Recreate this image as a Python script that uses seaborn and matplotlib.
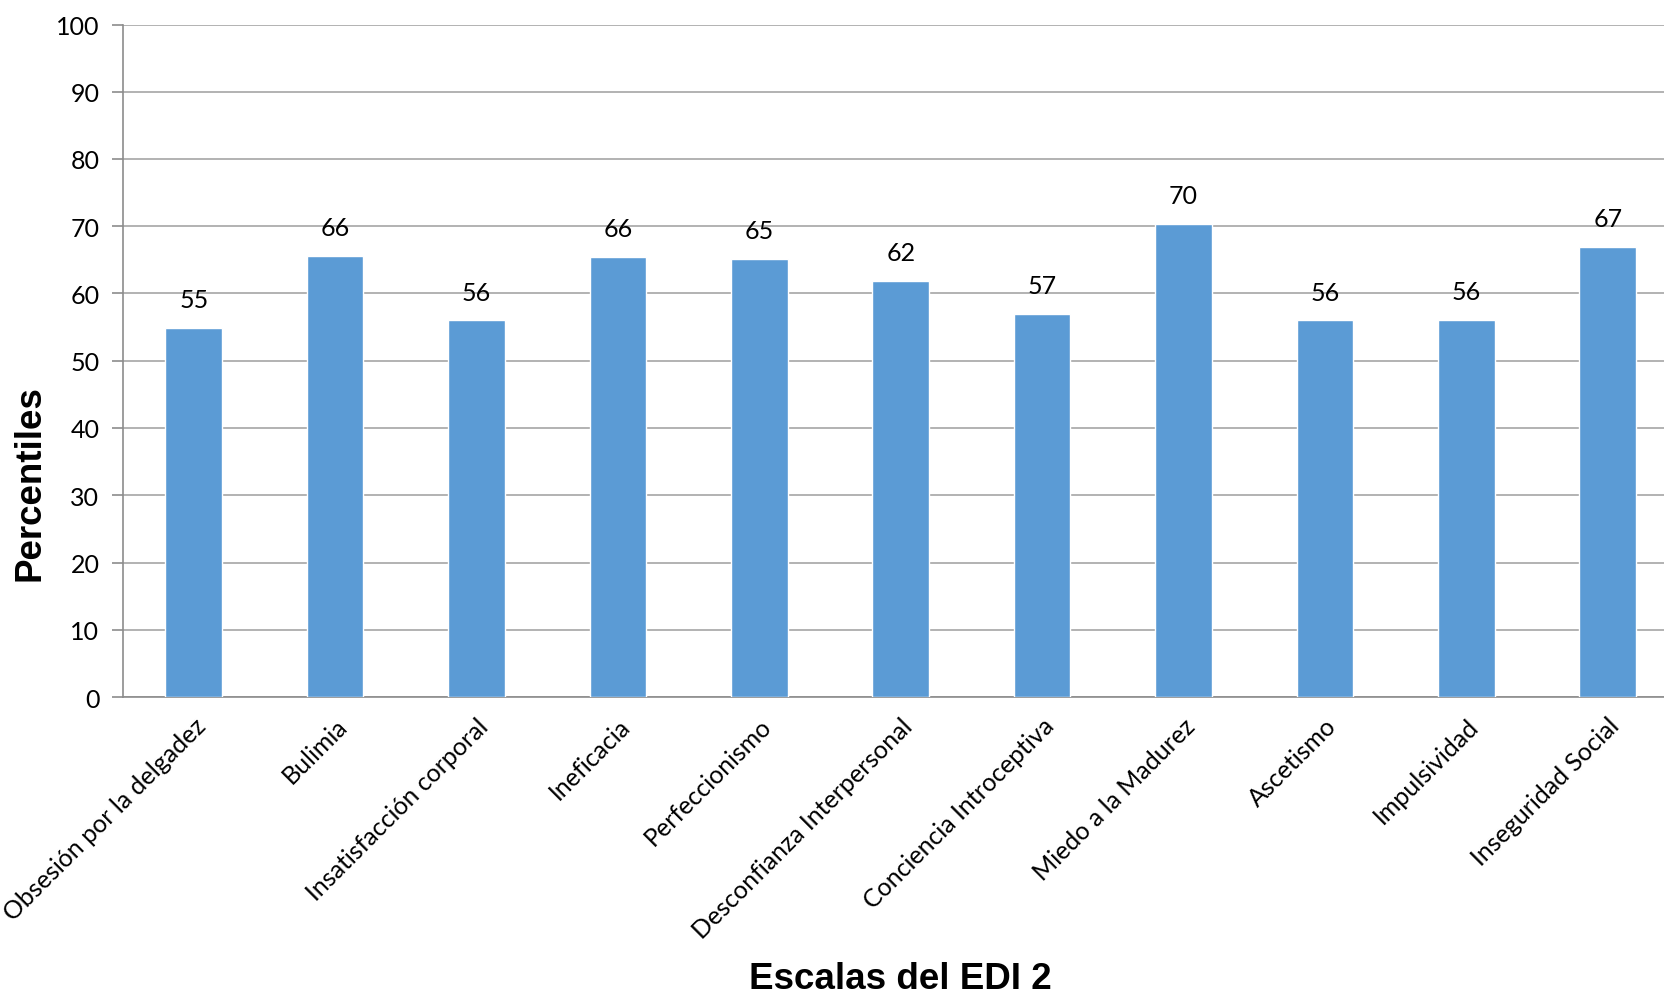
import matplotlib
matplotlib.use("Agg")
import matplotlib.pyplot as plt
import seaborn as sns
import pandas as pd

categories = ["Obsesión por la delgadez", "Bulimia", "Insatisfacción corporal",
              "Ineficacia", "Perfeccionismo", "Desconfianza Interpersonal",
              "Conciencia Introceptiva", "Miedo a la Madurez", "Ascetismo",
              "Impulsividad", "Inseguridad Social"]
values = [54.9, 65.6, 56.0, 65.5, 65.2, 61.9, 57.0, 70.4, 56.0, 56.1, 66.9]
value_labels = ["55", "66", "56", "66", "65", "62", "57", "70", "56", "56", "67"]
yticks = [0, 10, 20, 30, 40, 50, 60, 70, 80, 90, 100]

sns.set_theme(style="white")
plt.rcParams["font.family"] = ["Lato", "DejaVu Sans"]

df = pd.DataFrame({"cat": categories, "val": values})

fig = plt.figure(figsize=(16.65, 9.95), dpi=100)
ax = fig.add_axes([123 / 1665, 1 - 698 / 995, 1 - 123 / 1665, (698 - 25.5) / 995])

sns.barplot(data=df, x="cat", y="val", color="#5B9BD5", saturation=1, width=0.4,
            ax=ax, zorder=3)

for c in ax.containers:
    ax.bar_label(c, labels=value_labels, padding=12, fontsize=18, color="#000000")

ax.set_ylim(0, 100)
ax.set_xlim(-0.5, 10.405)
ax.set_yticks(yticks)
ax.set_yticklabels([str(t) for t in yticks], fontsize=18, color="#000000")
ax.yaxis.grid(True, color="#A6A6A6", linewidth=1.2, zorder=0)
ax.set_axisbelow(True)

for s in ["top", "right"]:
    ax.spines[s].set_visible(False)
ax.spines["left"].set_color("#8C8C8C")
ax.spines["left"].set_linewidth(1.2)
ax.spines["bottom"].set_color("#8C8C8C")
ax.spines["bottom"].set_linewidth(1.2)

ax.tick_params(axis="y", which="major", left=True, length=8, width=1.2,
               color="#8C8C8C", pad=9)
ax.tick_params(axis="x", bottom=False, pad=6)
ax.set_xticks(range(len(categories)))
ax.set_xticklabels(categories, rotation=45, ha="right", rotation_mode="anchor",
                   fontsize=18, color="#000000")

ax.set_ylabel("Percentiles", fontsize=26.5, fontweight="bold",
              family="Liberation Sans", color="#000000", labelpad=10)
ax.yaxis.set_label_coords(-0.049, 0.32)
ax.set_xlabel("Escalas del EDI 2", fontsize=26.5, fontweight="bold",
              family="Liberation Sans", color="#000000", labelpad=20)
ax.xaxis.set_label_coords(0.504, -0.393)

fig.savefig("out.png", dpi=100)
